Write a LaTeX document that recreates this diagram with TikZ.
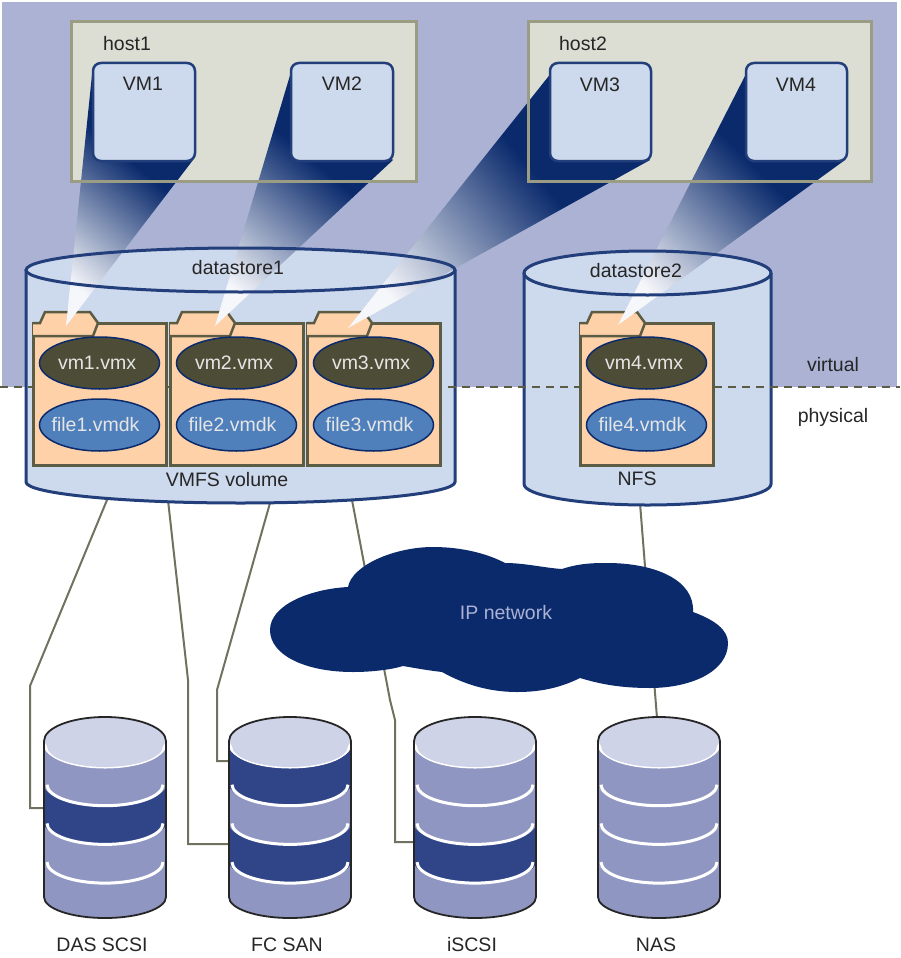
\documentclass[tikz,border=0pt]{standalone}
\usepackage{fontspec}
\setmainfont{Liberation Sans}
\usetikzlibrary{shapes.geometric}

\definecolor{navy}{HTML}{0A2A6C}
\definecolor{virtualbg}{HTML}{ABB2D4}
\definecolor{hostfill}{HTML}{DCDDD3}
\definecolor{hostline}{HTML}{9A9C84}
\definecolor{storefill}{HTML}{CDD9EC}
\definecolor{folderfill}{HTML}{FFD1A8}
\definecolor{folderline}{HTML}{5C5C44}
\definecolor{vmxfill}{HTML}{4D4D37}
\definecolor{vmdkfill}{HTML}{4F80BC}
\definecolor{cable}{HTML}{70715F}
\definecolor{disktop}{HTML}{CFD3E8}
\definecolor{lite}{HTML}{9096C2}
\definecolor{dark}{HTML}{2F4587}
\definecolor{tipwhite}{HTML}{F6F7FB}

\pgfdeclareverticalshading{beamfade}{100bp}{color(0bp)=(tipwhite); color(24bp)=(tipwhite); color(58bp)=(navy); color(100bp)=(navy)}

\tikzset{
  txt/.style={font=\fontsize{19.5}{21}\selectfont, text=black!85, inner sep=0pt},
  filetxt/.style={font=\fontsize{19.5}{21}\selectfont, text=white!90!black, inner sep=0pt},
  hostbox/.style={draw=hostline, line width=3pt, fill=hostfill},
  vmbox/.style={draw=navy!90, line width=2.5pt, fill=storefill, rounded corners=8pt},
  storeline/.style={draw=navy!90, line width=3pt},
  vmxfile/.style={ellipse, draw=navy, line width=1.5pt, fill=vmxfill, minimum width=120pt, minimum height=52pt, filetxt},
  vmdkfile/.style={ellipse, draw=navy, line width=1.5pt, fill=vmdkfill, minimum width=120pt, minimum height=52pt, filetxt},
  cableline/.style={draw=cable, line width=2pt},
  beam/.style={shading=beamfade},
}

% one datastore: left x, half width, y of top, y of bottom
\newcommand{\datastore}[4]{
  \begin{scope}[shift={(#1,0)}]
    \path[fill=storefill] (0,#3) -- (0,#4) arc[start angle=180,end angle=360,x radius=#2pt,y radius=21pt]
      -- ({2*#2},#3) arc[start angle=0,end angle=180,x radius=#2pt,y radius=22pt] -- cycle;
    \draw[storeline] (0,#3) -- (0,#4) arc[start angle=180,end angle=360,x radius=#2pt,y radius=21pt] -- ({2*#2},#3);
  \end{scope}
}

% folder with its two files: n, left x
\newcommand{\vmfolder}[2]{
  \begin{scope}[shift={(#2,0)}]
    \draw[fill=folderfill, draw=folderline, line width=3pt] (0,323) rectangle (133,465);
    \draw[fill=folderfill, draw=folderline, line width=2.5pt] (0,323) -- (7,323) -- (12,312) -- (57,312) -- (65,323) -- (60,336) -- (0,336);
    \node[vmxfile] (vmx#1) at (66.5,363) {\makebox[0pt]{vm#1.vmx\hspace{5pt}}};
    \node[vmdkfile] (vmdk#1) at (66.5,425) {\makebox[0pt]{file#1.vmdk\hspace{8pt}}};
  \end{scope}
}

% one disk: name, left x, label, colours of the four bands
\newcommand{\disk}[4]{
  \begin{scope}[shift={(#2,0)}]
    \begin{scope}
      \clip (0,741) -- (0,897) arc[start angle=180,end angle=360,x radius=61pt,y radius=21pt] -- (122,741) -- cycle;
      \foreach \c [count=\n] in {#4} {
        \pgfmathsetmacro{\yy}{746+38.7*(\n-1)}
        \pgfmathsetmacro{\yz}{\yy+38.7}
        \fill[\c] (0,\yy) arc[start angle=180,end angle=360,x radius=61pt,y radius=21pt]
          -- (122,\yz) arc[start angle=360,end angle=180,x radius=61pt,y radius=21pt] -- cycle;
      }
      \foreach \n in {1,2,3,4} {
        \pgfmathsetmacro{\yy}{746+38.7*(\n-1)}
        \draw[white, line width=3pt] (3,\yy) arc[start angle=180,end angle=360,x radius=58pt,y radius=21pt];
      }
    \end{scope}
    % top of the disk
    \fill[disktop] (0,741) arc[start angle=180,end angle=0,x radius=61pt,y radius=24pt]
      -- (119,746) arc[start angle=360,end angle=180,x radius=58pt,y radius=21pt] -- cycle;
    \draw[black!85, line width=1.8pt] (0,741) -- (0,897) arc[start angle=180,end angle=360,x radius=61pt,y radius=21pt]
      -- (122,741) arc[start angle=0,end angle=180,x radius=61pt,y radius=24pt] -- cycle;
    \node[txt] (#1) at (58,945) {#3};
  \end{scope}
}

\begin{document}
\begin{tikzpicture}[x=1pt, y=-1pt]
\useasboundingbox (0,0) rectangle (900,958);

\fill[virtualbg] (2,2) rectangle (897,387);

% hosts
\draw[hostbox] (71,22) rectangle (416,181);
\draw[hostbox] (528,22) rectangle (871,181);
\node[txt] (host1) at (127,44) {host1};
\node[txt] (host2) at (583,44) {host2};

% ends of the cables
\coordinate (ds1a) at (107,500);
\coordinate (ds1b) at (168,500);
\coordinate (ds1c) at (270,503);
\coordinate (ds1d) at (352,500);
\coordinate (ds2a) at (640,503);
\coordinate (dasport) at (44,808);
\coordinate (fcporta) at (229,844);
\coordinate (fcportb) at (229,761);
\coordinate (iscsiport) at (414,842);
\coordinate (nasport) at (657,718);

\draw[cableline] (ds1a) -- (30,686) -- (30,808) -- (dasport);
\draw[cableline] (ds1b) -- (188,680) -- (188,844) -- (fcporta);
\draw[cableline] (ds1c) -- (217,690) -- (217,761) -- (fcportb);
\draw[cableline] (ds1d) -- (390,700) -- (395,720) -- (395,842) -- (iscsiport);
\draw[cableline] (ds2a) -- (nasport);

% cloud
\fill[navy] (348,587) .. controls (352,565) and (395,547) .. (433,547)
  .. controls (465,547) and (490,555) .. (505,563)
  .. controls (525,563) and (545,568) .. (562,569)
  .. controls (580,563) and (595,563) .. (607,563)
  .. controls (655,563) and (695,580) .. (693,612)
  .. controls (715,620) and (728,630) .. (728,643)
  .. controls (728,672) and (690,688) .. (650,688)
  .. controls (620,688) and (600,684) .. (580,678)
  .. controls (560,688) and (540,692) .. (517,692)
  .. controls (485,692) and (460,682) .. (442,672)
  .. controls (425,670) and (415,668) .. (403,666)
  .. controls (390,670) and (370,672) .. (353,672)
  .. controls (305,672) and (270,655) .. (270,630)
  .. controls (270,605) and (310,589) .. (348,587) -- cycle;
\node[txt, text=virtualbg] (ipnet) at (506,613) {IP network};

% disks
\disk{das}{44}{DAS SCSI}{lite,dark,lite,lite}
\disk{fc}{229}{FC SAN}{dark,lite,dark,lite}
\disk{iscsi}{414}{iSCSI}{lite,lite,dark,lite}
\disk{nas}{598}{NAS}{lite,lite,lite,lite}

% datastores
\datastore{26}{214.5}{270}{482}
\datastore{524}{123.5}{273}{484}

% virtual / physical
\draw[folderline, line width=1.6pt, dash pattern=on 8pt off 6pt] (0,387) -- (900,387);
\node[txt] (virtual) at (833,365) {virtual};
\node[txt] (physical) at (833,417) {physical};

\vmfolder{1}{33}
\vmfolder{2}{170}
\vmfolder{3}{307}
\vmfolder{4}{580}

% links from the VMs to their folders
\shade[beam, shading angle=-40] (92,75) -- (193,160) -- (66,326) -- cycle;
\shade[beam, shading angle=-40] (291,72) -- (393,160) -- (215,326) -- cycle;
\shade[beam, shading angle=-50] (552,72) -- (650,160) -- (348,328) -- cycle;
\shade[beam, shading angle=-45] (747,72) -- (845,160) -- (618,325) -- cycle;

% host frames stay visible over the links
\draw[hostbox, fill=none] (71,22) rectangle (416,181);
\draw[hostbox, fill=none] (528,22) rectangle (871,181);

\draw[storeline] (240.5,270) ellipse[x radius=214.5pt, y radius=22pt];
\draw[storeline] (647.5,273) ellipse[x radius=123.5pt, y radius=22pt];
\node[txt] (ds1) at (238,268) {datastore1};
\node[txt] (ds2) at (636,271) {datastore2};
\node[txt] (vmfs) at (227,480) {VMFS volume};
\node[txt] (nfs) at (637,479) {NFS};

% VMs
\draw[vmbox] (93,63) rectangle (195,161);
\draw[vmbox] (291,63) rectangle (393,161);
\draw[vmbox] (550,63) rectangle (651,161);
\draw[vmbox] (746,63) rectangle (847,161);
\node[txt] (vm1) at (143,84) {VM1};
\node[txt] (vm2) at (342,84) {VM2};
\node[txt] (vm3) at (600,85) {VM3};
\node[txt] (vm4) at (796,85) {VM4};
\end{tikzpicture}
\end{document}
